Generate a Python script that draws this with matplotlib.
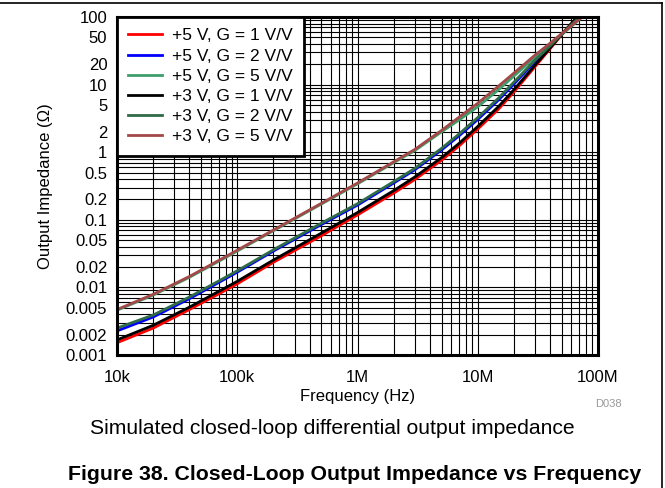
import matplotlib
matplotlib.use("Agg")
import matplotlib.pyplot as plt
from matplotlib.ticker import LogLocator, NullFormatter
from matplotlib.lines import Line2D

plt.rcParams['font.family'] = ['Liberation Sans', 'DejaVu Sans']

# data
freq = [1e4, 2e4, 4e4, 7e4, 1e5, 2e5, 5e5, 1e6, 2e6, 3e6, 5e6, 7e6,
        1e7, 1.5e7, 2e7, 3e7, 4e7, 5e7, 7e7, 8e7]

z_5v_g1 = [0.00152, 0.0025, 0.0047, 0.0080, 0.0113, 0.0235, 0.058, 0.118, 0.248, 0.395, 0.76, 1.24,
           2.2, 4.4, 7.8, 18.5, 34, 55, 108, 142]
z_5v_g2 = [0.00227, 0.00365, 0.0068, 0.0118, 0.0168, 0.0345, 0.085, 0.165, 0.35, 0.55, 1.08, 1.75,
           3.05, 6.0, 10.2, 22, 37, 56, 102, 130]
z_5v_g5 = [0.0046, 0.0077, 0.0141, 0.0243, 0.0345, 0.069, 0.171, 0.34, 0.70, 1.06, 2.0, 3.0,
           4.7, 8.5, 13.4, 25.4, 39, 55, 92, 113]
z_3v_g1 = [0.00167, 0.00275, 0.0051, 0.0087, 0.0123, 0.0254, 0.0634, 0.128, 0.27, 0.43, 0.83, 1.35,
           2.4, 4.8, 8.4, 19.5, 35, 56, 108, 140]
z_3v_g2 = [0.0025, 0.0039, 0.0072, 0.0124, 0.0176, 0.036, 0.089, 0.173, 0.367, 0.577, 1.14, 1.86,
           3.25, 6.4, 10.9, 23, 37.5, 56, 100, 126]
z_3v_g5 = [0.0047, 0.0079, 0.0145, 0.025, 0.0355, 0.0706, 0.175, 0.35, 0.72, 1.1, 2.1, 3.3,
           5.3, 9.6, 14.8, 27.4, 41, 57, 93, 114]

series = [z_5v_g1, z_5v_g2, z_5v_g5, z_3v_g1, z_3v_g2, z_3v_g5]
labels = ['+5 V, G = 1 V/V', '+5 V, G = 2 V/V', '+5 V, G = 5 V/V',
          '+3 V, G = 1 V/V', '+3 V, G = 2 V/V', '+3 V, G = 5 V/V']
colors = ['#FF0000', '#0000FF', '#3D9E6B', '#000000', '#2F6B47', '#A34848']

x_ticks = [1e4, 1e5, 1e6, 1e7, 1e8]
x_ticklabels = ['10k', '100k', '1M', '10M', '100M']
y_ticks = [0.001, 0.002, 0.005, 0.01, 0.02, 0.05, 0.1, 0.2, 0.5, 1, 2, 5, 10, 20, 50, 100]
y_ticklabels = ['0.001', '0.002', '0.005', '0.01', '0.02', '0.05', '0.1', '0.2', '0.5',
                '1', '2', '5', '10', '20', '50', '100']

fig = plt.figure(figsize=(6.65, 4.88), dpi=100)
ax = fig.add_axes([117 / 665, 1 - 355 / 488, 481 / 665, 338 / 488])

for z, lab, c in zip(series, labels, colors):
    ax.plot(freq, z, color=c, lw=2, label=lab, zorder=3)

ax.set_xscale('log')
ax.set_yscale('log')
ax.set_xlim(1e4, 1e8)
ax.set_ylim(0.001, 100)

ax.set_xticks(x_ticks)
ax.set_xticklabels(x_ticklabels)
ax.set_yticks(y_ticks)
ax.set_yticklabels(y_ticklabels)
ax.xaxis.set_minor_locator(LogLocator(base=10, subs=range(2, 10), numticks=20))
ax.yaxis.set_minor_locator(LogLocator(base=10, subs=range(2, 10), numticks=20))
ax.xaxis.set_minor_formatter(NullFormatter())
ax.yaxis.set_minor_formatter(NullFormatter())

ax.grid(True, which='both', color='black', lw=0.8)
ax.tick_params(which='both', length=0, labelsize=12)
ax.tick_params(axis='x', pad=11)
ax.tick_params(axis='y', pad=7)
for sp in ax.spines.values():
    sp.set_linewidth(2.2)
    sp.set_zorder(5)

ax.set_xlabel('Frequency (Hz)', fontsize=12, labelpad=3)
ax.set_ylabel('Output Impedance (Ω)', fontsize=12, labelpad=9)

leg = ax.legend(loc='upper left', bbox_to_anchor=(0, 1), borderaxespad=0,
                fontsize=12.5, fancybox=False, framealpha=1, edgecolor='black',
                handlelength=1.95, handletextpad=0.57, labelspacing=0.29,
                borderpad=0.65)
leg.get_frame().set_linewidth(2)
leg.set_zorder(6)

fig.text(622 / 665, 1 - 404 / 488, 'D038', fontsize=8, color='#999999',
         ha='right', va='center')
fig.text(332 / 665, 1 - 428 / 488, 'Simulated closed-loop differential output impedance',
         fontsize=15.2, ha='center', va='center')
fig.text(355 / 665, 1 - 475 / 488, 'Figure 38. Closed-Loop Output Impedance vs Frequency',
         fontsize=15.3, fontweight='bold', ha='center', va='center')

# partial border around the figure (top and right)
fig.add_artist(Line2D([0, 662 / 665], [1 - 2.5 / 488, 1 - 2.5 / 488], color='black', lw=1.2))
fig.add_artist(Line2D([662 / 665, 662 / 665], [1 - 2.5 / 488, 0], color='black', lw=1.2))

fig.savefig('out.png', dpi=100)
